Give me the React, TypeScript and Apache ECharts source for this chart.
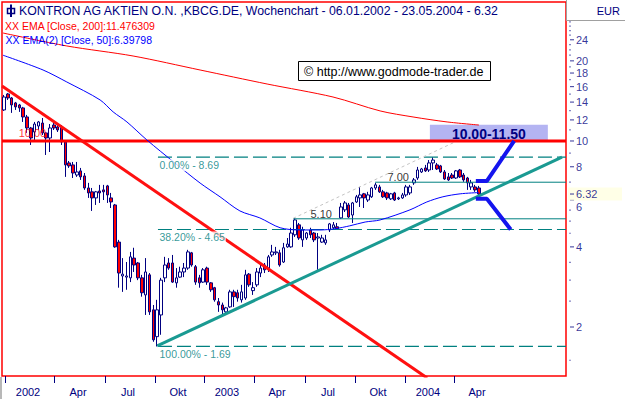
import React, { useEffect, useRef } from "react";
import * as echarts from "echarts";

const FONT = '"Liberation Sans", Arial, sans-serif';
const NAVY = "#000080";
const TEAL = "#008080";

// Weekly candles: week 0 = 06.01.2002 ... week 124 = 23.05.2004
const opens = [
  13.08, 15.02, 14.51, 13.9, 13.66, 13.31, 12.31, 11.19, 10.81, 11.38,
  11.68, 10.72, 10.26, 11.48, 11.29, 11.29, 9.91, 8.27, 8.13, 7.45,
  7.72, 7.39, 6.66, 6.44, 6.11, 6.49, 6.55, 6.78, 6.11, 5.75,
  4.17, 3.11, 3.08, 3.06, 3.63, 3.48, 3.06, 2.64, 3.14, 2.32,
  1.84, 2.22, 3.06, 3.48, 3.48, 2.93, 3.08, 3.22, 3.33, 3.8,
  3.37, 3.06, 2.95, 3.33, 2.93, 2.81, 2.49, 2.42, 2.28, 2.38,
  2.71, 2.69, 2.53, 2.57, 3.16, 2.74, 2.88, 3.19, 3.42, 3.33,
  3.73, 3.8, 3.8, 3.51, 4.0, 4.0, 4.44, 4.84, 4.25, 4.32,
  4.63, 4.51, 4.32, 4.17, 4.14, 4.63, 4.72, 4.76, 5.14, 5.51,
  5.75, 5.27, 5.9, 6.11, 6.33, 6.0, 6.17, 6.66, 6.72, 6.44,
  6.38, 6.06, 6.38, 6.06, 6.11, 6.27, 6.38, 6.96, 7.26, 7.65,
  7.92, 7.78, 8.27, 8.13, 8.06, 7.65, 7.33, 7.45, 7.26, 7.78,
  7.45, 7.26, 6.72, 6.72, 6.66,
];
const closes = [
  14.63, 14.51, 13.66, 13.43, 13.31, 12.31, 11.19, 10.26, 11.58, 11.79,
  10.72, 10.26, 11.19, 11.19, 11.0, 9.91, 8.13, 8.06, 7.58, 7.65,
  7.33, 6.66, 6.38, 6.11, 6.44, 6.38, 6.44, 6.27, 5.9, 4.0,
  3.19, 3.16, 3.11, 3.67, 3.42, 3.06, 2.69, 3.22, 2.28, 1.79,
  2.32, 3.0, 3.42, 3.33, 2.95, 3.06, 3.22, 3.33, 3.83, 3.42,
  2.95, 2.93, 3.28, 2.95, 2.76, 2.53, 2.42, 2.32, 2.36, 2.71,
  2.6, 2.57, 2.71, 3.14, 2.88, 2.81, 3.22, 3.33, 3.28, 3.67,
  3.83, 3.83, 3.42, 3.97, 4.1, 4.51, 5.05, 4.32, 4.63, 4.51,
  4.44, 4.25, 4.36, 4.32, 4.25, 4.88, 4.84, 4.68, 5.65, 5.85,
  5.18, 5.85, 6.17, 6.27, 6.11, 6.27, 6.66, 6.84, 6.44, 6.17,
  6.11, 6.33, 6.0, 6.11, 6.27, 6.72, 6.72, 7.14, 7.78, 7.85,
  7.72, 8.27, 8.48, 7.85, 7.65, 7.2, 7.14, 7.26, 7.72, 7.33,
  7.14, 6.96, 6.96, 6.55, 6.32,
];
const lows = [
  12.97, 14.26, 12.75, 13.08, 12.86, 11.79, 10.72, 9.66, 10.09, 11.0,
  10.53, 8.86, 9.09, 11.0, 10.81, 9.66, 7.33, 7.92, 7.26, 7.33,
  7.14, 6.55, 6.11, 5.46, 5.75, 5.85, 6.0, 5.85, 5.6, 3.97,
  2.81, 2.71, 2.76, 2.95, 3.22, 3.0, 2.6, 2.22, 2.22, 1.76,
  1.69, 1.87, 2.95, 3.28, 2.93, 2.81, 3.06, 3.08, 3.28, 3.37,
  2.88, 2.81, 2.93, 2.88, 2.71, 2.49, 2.28, 2.22, 2.26, 2.36,
  2.38, 2.49, 2.47, 2.53, 2.83, 2.64, 2.83, 3.08, 3.19, 3.22,
  3.67, 3.73, 3.37, 3.48, 3.97, 3.97, 4.36, 4.25, 4.0, 4.25,
  4.32, 4.17, 3.28, 4.14, 4.07, 4.55, 4.63, 4.63, 5.09, 5.41,
  5.14, 4.92, 5.85, 5.65, 5.6, 5.9, 6.11, 6.55, 6.38, 6.11,
  6.0, 6.0, 5.95, 6.0, 6.06, 6.17, 6.27, 6.84, 7.14, 7.58,
  7.65, 7.65, 7.78, 7.78, 7.58, 7.14, 7.08, 7.2, 7.2, 7.26,
  7.02, 6.55, 6.55, 6.44, 6.27,
];
const highs = [
  14.89, 15.15, 14.63, 14.02, 13.78, 13.43, 12.53, 11.29, 11.79, 11.89,
  12.2, 10.81, 11.58, 11.79, 11.68, 11.48, 10.0, 8.41, 8.34, 8.34,
  7.92, 7.58, 6.96, 6.66, 6.49, 6.84, 6.84, 6.84, 6.38, 5.8,
  4.25, 3.63, 3.51, 3.83, 3.97, 3.51, 3.14, 3.63, 3.19, 2.42,
  2.53, 3.06, 3.67, 3.63, 3.73, 3.33, 3.37, 3.48, 3.9, 3.83,
  3.42, 3.14, 3.33, 3.37, 2.95, 2.83, 2.57, 2.47, 2.38, 2.76,
  2.76, 2.76, 2.88, 3.28, 3.19, 2.95, 3.33, 3.42, 3.48, 3.73,
  4.07, 4.0, 3.9, 4.14, 4.32, 4.72, 5.13, 4.92, 4.76, 4.55,
  4.72, 4.55, 4.51, 4.44, 4.44, 4.92, 4.96, 4.92, 5.85, 5.95,
  5.85, 5.9, 6.27, 6.72, 6.38, 6.44, 6.72, 6.96, 6.84, 6.55,
  6.44, 6.38, 6.44, 6.17, 6.38, 6.84, 6.84, 7.26, 7.99, 7.92,
  8.13, 8.48, 8.69, 8.27, 8.13, 7.78, 7.58, 7.58, 7.78, 7.85,
  7.58, 7.33, 7.14, 6.84, 6.78,
];

// Moving averages (week index, value)
const ema200Weeks = [-0.26, 16.4, 33.7, 51.2, 68.7, 85.9, 98.2, 106.8, 115.7, 124];
const ema200Values = [25.45, 22.75, 20.86, 18.48, 16.37, 14.63, 12.97, 12.31, 11.79, 11.48];
const ema50Weeks = [
  -0.26, 10.2, 16.4, 25.1, 28.5, 32.1, 37.3, 44.6, 51.2, 56.4, 61.6, 66.8,
  72.1, 77.3, 82.5, 86.4, 90.3, 94.3, 98.2, 106.0, 110.4, 114.6, 119.1, 124,
];
const ema50Values = [
  21.0, 18.48, 16.66, 14.26, 12.86, 11.79, 10.09, 8.27, 6.95, 6.17, 5.46, 5.14,
  4.72, 4.63, 4.63, 4.68, 4.8, 4.96, 5.05, 5.51, 5.9, 6.17, 6.33, 6.4,
];

// Drawn studies (week index, price)
const breakoutLevel = 10.0;
const breakoutLabelWeek = 3.7;
const fibLevels = [8.69, 4.65, 1.69];
const fibNames = ["0.00%", "38.20%", "100.00%"];
const fibStartWeek = 40.2;
const resistLevels = [5.1, 7.0];
const resistStartWeeks = [75.5, 96.9];
const resistLabelWeeks = [79.9, 100.0];
const downTrend = [[-0.52, 16.1], [110.5, 1.286]];
const upTrend = [[40.0, 1.7], [145.7, 8.7]];
const channelGuide = [[75.5, 5.12], [118.3, 10.0]];
const upperProjection = [[123.2, 7.08], [126.1, 7.08], [133.2, 10.0]];
const lowerProjection = [[123.2, 6.06], [126.1, 6.06], [132.3, 4.65]];
const targetZoneWeeks = [111.2, 142.0];
const targetZoneLevels = [10.0, 11.5];

// Axes
const xTickWeeks = [0.26, 13.05, 26.37, 39.43, 52.22, 65.27, 78.59, 91.64, 104.7, 117.49];
const xLabelWeeks = [6.27, 19.32, 32.38, 45.43, 58.22, 71.28, 84.6, 97.65, 110.7, 123.5];
const xLabelText = ["2002", "Apr", "Jul", "Okt", "2003", "Apr", "Jul", "Okt", "2004", "Apr"];
const yTickValues = [2, 4, 6, 8, 10, 12, 14, 16, 18, 20, 24];
const yMinorValues = [1.5, 2.5, 3, 3.5, 4.5, 5, 5.5, 7, 9, 11, 13, 15, 17, 19, 21, 22, 23, 25, 26, 27, 28];
const lastPrice = 6.32;

const titleText = "KONTRON AG AKTIEN O.N. ,KBCG.DE, Wochenchart - 06.01.2002 - 23.05.2004 - 6.32";
const ema200Legend = "XX EMA [Close, 200]:11.476309";
const ema50Legend = "XX EMA(2) [Close, 50]:6.39798";
const copyrightText = "\u00A9 http://www.godmode-trader.de";

const W_MIN = -0.52;
const W_MAX = 146.74;
const Y_MIN = 1.309;
const Y_MAX = 33.28;

function lineSeries(data: number[][], color: string, width: number, z: number, extra: any = {}) {
  return {
    type: "line",
    data,
    symbol: "none",
    silent: true,
    z,
    lineStyle: { color, width, ...(extra.lineStyle || {}) },
    ...(extra.smooth != null ? { smooth: extra.smooth } : {}),
  };
}

function labelPoint(w: number, v: number, text: string, label: any) {
  return { value: [w, v], name: text, label: { show: true, formatter: "{b}", ...label } };
}

export default function App() {
  const ref = useRef<HTMLDivElement>(null);

  useEffect(() => {
    document.body.style.margin = "0";
    if (!ref.current) return;
    const chart = echarts.init(ref.current, null, { renderer: "svg" });

    const candleData = opens.map((o, i) => [i, o, closes[i], lows[i], highs[i]]);

    const series: any[] = [];

    // target zone box
    series.push({
      type: "line",
      data: [
        [targetZoneWeeks[0], targetZoneLevels[0]],
        [targetZoneWeeks[1], targetZoneLevels[1]],
      ],
      symbol: "none",
      silent: true,
      z: 1,
      lineStyle: { opacity: 0 },
      markArea: {
        silent: true,
        itemStyle: { color: "#B4B4F2" },
        label: {
          show: true,
          position: "inside",
          formatter: `${targetZoneLevels[0].toFixed(2)}-${targetZoneLevels[1].toFixed(2)}`,
          color: NAVY,
          fontWeight: "bold",
          fontSize: 14,
          fontFamily: FONT,
          offset: [0, 1],
        },
        data: [
          [
            { coord: [targetZoneWeeks[0], targetZoneLevels[0]] },
            { coord: [targetZoneWeeks[1], targetZoneLevels[1]] },
          ],
        ],
      },
    });

    // candles
    series.push({
      type: "candlestick",
      data: candleData,
      barWidth: 3,
      z: 2,
      silent: true,
      itemStyle: {
        color: "#FFFFFF",
        color0: "#FF0000",
        borderColor: NAVY,
        borderColor0: NAVY,
        borderWidth: 1,
      },
    });

    // fib dashed lines
    fibLevels.forEach((lv) => {
      series.push(
        lineSeries([[fibStartWeek, lv], [W_MAX, lv]], TEAL, 1.2, 3, { lineStyle: { type: [14, 5] } })
      );
    });
    // resistance lines
    resistLevels.forEach((lv, k) => {
      series.push(lineSeries([[resistStartWeeks[k], lv], [W_MAX, lv]], TEAL, 1, 3));
    });
    // gray guide
    series.push(lineSeries(channelGuide, "#C4C4C4", 1, 3, { lineStyle: { type: [3, 3] } }));

    // EMAs
    series.push(
      lineSeries(ema200Weeks.map((w, k) => [w, ema200Values[k]]), "#FF0000", 1, 5, { smooth: 0.3 })
    );
    series.push(
      lineSeries(ema50Weeks.map((w, k) => [w, ema50Values[k]]), "#0000FF", 1, 5, { smooth: 0.3 })
    );

    // thick lines
    series.push(lineSeries([[W_MIN, breakoutLevel], [W_MAX, breakoutLevel]], "#FF0000", 3, 4));
    series.push(lineSeries(downTrend, "#FF1010", 3, 4));
    series.push(lineSeries(upTrend, "#1A9A92", 3, 4));
    series.push(lineSeries(upperProjection, "#1414EE", 4, 6));
    series.push(lineSeries(lowerProjection, "#1414EE", 4, 6));

    // chart labels
    const chartLabels: any[] = [];
    fibLevels.forEach((lv, k) => {
      chartLabels.push(
        labelPoint(fibStartWeek, lv, `${fibNames[k]} - ${lv.toFixed(2)}`, {
          position: "right",
          distance: 0,
          offset: [0, 8],
          color: TEAL,
          fontSize: 10.5,
          fontFamily: FONT,
          backgroundColor: "#FFFFFF",
          padding: [1, 1, 0, 1],
        })
      );
    });
    resistLevels.forEach((lv, k) => {
      chartLabels.push(
        labelPoint(resistLabelWeeks[k], lv, lv.toFixed(2), {
          position: "right",
          distance: 0,
          offset: [0, -5],
          color: "#000000",
          fontSize: 11,
          fontFamily: FONT,
        })
      );
    });
    chartLabels.push(
      labelPoint(breakoutLabelWeek, breakoutLevel, breakoutLevel.toFixed(2), {
        position: "right",
        distance: 0,
        offset: [0, -8],
        color: "#FF0000",
        fontSize: 11,
        fontFamily: FONT,
      })
    );
    series.push({
      type: "scatter",
      data: chartLabels,
      symbolSize: 1,
      itemStyle: { color: "transparent" },
      silent: true,
      z: 5,
      clip: false,
    });

    // right axis: minor dots
    series.push({
      type: "scatter",
      data: yMinorValues.map((v) => [W_MAX, v]),
      symbol: "rect",
      symbolSize: [1.2, 1.2],
      symbolOffset: [4, 0],
      itemStyle: { color: NAVY },
      silent: true,
      clip: false,
      z: 7,
    });
    // right axis: labelled ticks
    series.push({
      type: "scatter",
      data: yTickValues.map((v) => [W_MAX, v]),
      symbol: "rect",
      symbolSize: [4, 1],
      symbolOffset: [6, 0],
      itemStyle: { color: NAVY },
      silent: true,
      clip: false,
      z: 7,
    });
    series.push({
      type: "scatter",
      data: yTickValues.map((v) =>
        labelPoint(W_MAX, v, String(v), Math.abs(v - lastPrice) < 0.5 ? { offset: [0, 7] } : {})
      ),
      symbolSize: 1,
      itemStyle: { color: "transparent" },
      label: {
        show: true,
        position: "right",
        distance: 9.5,
        color: NAVY,
        fontSize: 11,
        fontFamily: FONT,
      },
      silent: true,
      clip: false,
      z: 7,
    });
    // last price box
    series.push({
      type: "scatter",
      data: [labelPoint(W_MAX, lastPrice, lastPrice.toFixed(2), {})],
      symbolSize: 1,
      itemStyle: { color: "transparent" },
      label: {
        show: true,
        position: "right",
        distance: 1.5,
        color: NAVY,
        fontSize: 11,
        fontFamily: FONT,
        lineHeight: 12,
        backgroundColor: "#FFFFE1",
        padding: [1, 2, 0, 8],
        width: 44,
      },
      silent: true,
      clip: false,
      z: 8,
    });
    series.push({
      type: "scatter",
      data: [[W_MAX, lastPrice]],
      symbol: "rect",
      symbolSize: [4, 1],
      symbolOffset: [6, 0],
      itemStyle: { color: NAVY },
      silent: true,
      clip: false,
      z: 9,
    });

    const option: any = {
      animation: false,
      backgroundColor: "#FFFFFF",
      grid: {
        left: 2,
        top: 2,
        right: 59,
        bottom: 23,
        show: true,
        borderColor: "#FF0000",
        borderWidth: 1.5,
        backgroundColor: "transparent",
        containLabel: false,
        outerBoundsMode: "none",
      },
      xAxis: {
        type: "value",
        min: W_MIN,
        max: W_MAX,
        splitLine: { show: false },
        axisLine: { show: false },
        axisTick: {
          show: true,
          customValues: xTickWeeks,
          length: 7,
          lineStyle: { color: NAVY, width: 1 },
        },
        axisLabel: {
          customValues: xLabelWeeks,
          color: NAVY,
          fontSize: 11,
          fontFamily: FONT,
          margin: 10,
          formatter: (val: number) => {
            const k = xLabelWeeks.findIndex((w) => Math.abs(w - val) < 1e-6);
            return k >= 0 ? xLabelText[k] : "";
          },
        },
      },
      yAxis: {
        type: "log",
        min: Y_MIN,
        max: Y_MAX,
        show: false,
        splitLine: { show: false },
      },
      graphic: [
        {
          type: "rect",
          shape: { x: 566.5, y: -1, width: 60, height: 21.5 },
          style: { fill: "#FFFFFF", stroke: "#A0A0A0", lineWidth: 1 },
          z: 10,
        },
        {
          type: "text",
          x: 620,
          y: 11,
          style: { text: "EUR", fill: NAVY, font: `11px ${FONT}`, align: "right", verticalAlign: "middle" },
          z: 11,
        },
        {
          type: "line",
          shape: { x1: 1, y1: 377, x2: 1, y2: 399 },
          style: { stroke: "#A0A0A0", lineWidth: 1.5 },
          z: 10,
        },
        {
          type: "line",
          shape: { x1: 11, y1: 4.5, x2: 11, y2: 17 },
          style: { stroke: NAVY, lineWidth: 2 },
          z: 10,
        },
        {
          type: "rect",
          shape: { x: 7.5, y: 8.5, width: 7, height: 5 },
          style: { fill: "none", stroke: NAVY, lineWidth: 1.5 },
          z: 10,
        },
        {
          type: "text",
          x: 19,
          y: 11,
          style: { text: titleText, fill: NAVY, font: `12.3px ${FONT}`, verticalAlign: "middle" },
          z: 10,
        },
        {
          type: "text",
          x: 5,
          y: 25.5,
          style: { text: ema200Legend, fill: "#FF0000", font: `10.5px ${FONT}`, verticalAlign: "middle" },
          z: 10,
        },
        {
          type: "text",
          x: 5.5,
          y: 40,
          style: { text: ema50Legend, fill: "#0000FF", font: `10.5px ${FONT}`, verticalAlign: "middle" },
          z: 10,
        },
        {
          type: "rect",
          shape: { x: 298.5, y: 61.5, width: 192, height: 19 },
          style: { fill: "#FFFFFF", stroke: "#000000", lineWidth: 1 },
          z: 10,
        },
        {
          type: "text",
          x: 304,
          y: 71.5,
          style: { text: copyrightText, fill: "#000000", font: `12.5px ${FONT}`, verticalAlign: "middle" },
          z: 11,
        },
      ],
      series,
    };

    chart.setOption(option);
    return () => {
      chart.dispose();
    };
  }, []);

  return (
    <div
      ref={ref}
      style={{ position: "absolute", left: 0, top: 0, width: 625, height: 399, background: "#FFFFFF" }}
    />
  );
}
